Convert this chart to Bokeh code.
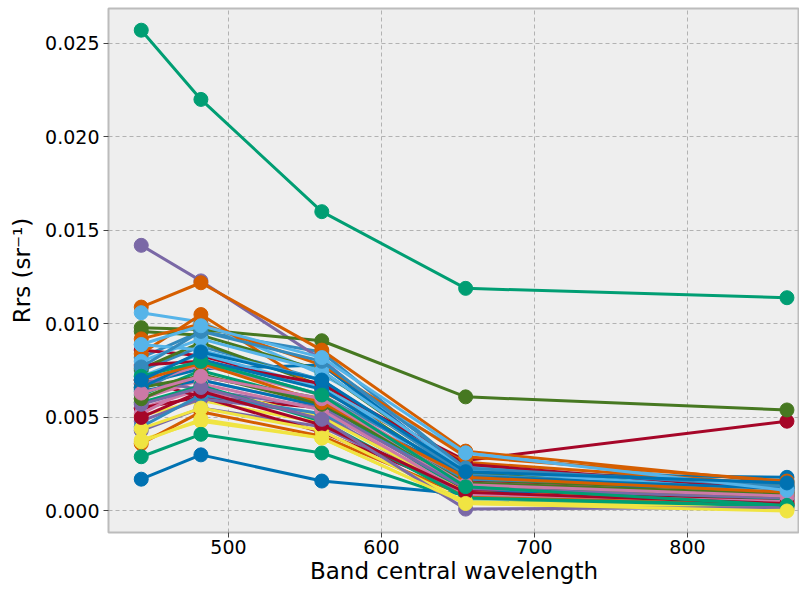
from bokeh.plotting import figure
from bokeh.models import Range1d, FixedTicker, PrintfTickFormatter
from bokeh.embed import file_html
from bokeh.resources import INLINE

wavelengths = [443, 482, 561, 655, 865]

palette = ["#348ABD", "#A60628", "#7A68A6", "#467821", "#D55E00",
           "#CC79A7", "#56B4E9", "#009E73", "#F0E442", "#0072B2"]

# Rrs per band for each sample (sample i uses palette[i % 10])
rrs_443 = [0.0082, 0.0086, 0.0142, 0.0098, 0.0109, 0.0055, 0.0106, 0.0257, 0.0051, 0.0068,
           0.0075, 0.0070, 0.0043, 0.0076, 0.0084, 0.0060, 0.0089, 0.0062, 0.0038, 0.0064,
           0.0065, 0.0055, 0.0048, 0.0096, 0.0036, 0.0068, 0.0072, 0.0029, 0.0058, 0.0017,
           0.0045, 0.0078, 0.0070, 0.0066, 0.0092, 0.0052, 0.0080, 0.0058, 0.0044, 0.0066,
           0.0077, 0.0050, 0.0057, 0.0060, 0.0070, 0.0063, 0.0089, 0.0072, 0.0037, 0.0070]
rrs_482 = [0.0096, 0.0083, 0.0123, 0.0097, 0.0122, 0.0065, 0.0101, 0.0220, 0.0059, 0.0076,
           0.0088, 0.0061, 0.0055, 0.0090, 0.0105, 0.0070, 0.0086, 0.0075, 0.0048, 0.0070,
           0.0080, 0.0061, 0.0060, 0.0094, 0.0053, 0.0078, 0.0084, 0.0041, 0.0066, 0.0030,
           0.0062, 0.0080, 0.0065, 0.0072, 0.0100, 0.0068, 0.0092, 0.0067, 0.0055, 0.0081,
           0.0096, 0.0064, 0.0066, 0.0073, 0.0079, 0.0072, 0.0099, 0.0080, 0.0049, 0.0085]
rrs_561 = [0.0085, 0.0066, 0.0081, 0.0091, 0.0086, 0.0050, 0.0073, 0.0160, 0.0047, 0.0078,
           0.0070, 0.0055, 0.0045, 0.0067, 0.0064, 0.0056, 0.0070, 0.0058, 0.0039, 0.0056,
           0.0062, 0.0042, 0.0052, 0.0075, 0.0040, 0.0062, 0.0066, 0.0031, 0.0050, 0.0016,
           0.0052, 0.0068, 0.0055, 0.0060, 0.0078, 0.0054, 0.0075, 0.0048, 0.0043, 0.0065,
           0.0080, 0.0046, 0.0049, 0.0057, 0.0058, 0.0060, 0.0082, 0.0062, 0.0039, 0.0070]
rrs_655 = [0.0022, 0.0027, 0.0018, 0.0061, 0.0032, 0.0012, 0.0031, 0.0119, 0.0008, 0.0020,
           0.0019, 0.0016, 0.0009, 0.0017, 0.0026, 0.0013, 0.0011, 0.0010, 0.0004, 0.0020,
           0.0020, 0.0011, 0.0007, 0.0021, 0.0008, 0.0015, 0.0024, 0.0005, 0.0010, 0.0009,
           0.0017, 0.0025, 0.0012, 0.0014, 0.0029, 0.0009, 0.0022, 0.0007, 0.0005, 0.0018,
           0.0023, 0.0010, 0.0001, 0.0015, 0.0018, 0.0014, 0.0031, 0.0013, 0.0004, 0.0021]
rrs_865 = [0.0013, 0.0048, 0.0006, 0.0054, 0.0015, 0.0006, 0.0012, 0.0114, 0.0002, 0.0018,
           0.0012, 0.0008, 0.0004, 0.0010, 0.0014, 0.0007, 0.0008, 0.0006, 0.0001, 0.0010,
           0.0014, 0.0005, 0.0003, 0.0013, 0.0004, 0.0009, 0.0011, 0.0003, 0.0004, 0.0016,
           0.0013, 0.0011, 0.0007, 0.0008, 0.0016, 0.0005, 0.0010, 0.0003, 0.0001, 0.0012,
           0.0013, 0.0004, 0.0002, 0.0009, 0.0010, 0.0008, 0.0011, 0.0003, 0.0000, 0.0015]

y_ticks = [0.0, 0.005, 0.010, 0.015, 0.020, 0.025]
x_ticks = [500, 600, 700, 800]

p = figure(width=799, height=586, output_backend="svg", toolbar_location=None,
           x_range=Range1d(421.6, 873.2), y_range=Range1d(-0.00115, 0.02686),
           min_border_left=108, min_border_right=0, min_border_top=8, min_border_bottom=50)

p.background_fill_color = "#eeeeee"
p.border_fill_color = "white"
p.outline_line_color = "#bcbcbc"
p.outline_line_width = 2

for ax in (p.xaxis[0], p.yaxis[0]):
    ax.axis_line_color = None
    ax.major_tick_line_color = "#444444"
    ax.major_tick_line_width = 1
    ax.major_tick_out = 5
    ax.major_tick_in = 0
    ax.minor_tick_line_color = None
    ax.major_label_text_font = "DejaVu Sans"
    ax.major_label_text_font_size = "19px"
    ax.major_label_text_color = "black"
    ax.axis_label_text_font = "DejaVu Sans"
    ax.axis_label_text_font_size = "23px"
    ax.axis_label_text_font_style = "normal"
    ax.axis_label_text_color = "black"

p.xaxis.ticker = FixedTicker(ticks=x_ticks)
p.yaxis.ticker = FixedTicker(ticks=y_ticks)
p.yaxis.formatter = PrintfTickFormatter(format="%.3f")
p.xaxis.axis_label = "Band central wavelength"
p.yaxis.axis_label = "Rrs (sr\u207b\u00b9)"
p.xaxis.major_label_standoff = 2
p.yaxis.major_label_standoff = 4
p.xaxis.axis_label_standoff = 1
p.yaxis.axis_label_standoff = 7

for g in (p.xgrid[0], p.ygrid[0]):
    g.grid_line_color = "#b2b2b2"
    g.grid_line_dash = "4 3"
    g.grid_line_width = 1

for i in range(len(rrs_443)):
    ys = [rrs_443[i], rrs_482[i], rrs_561[i], rrs_655[i], rrs_865[i]]
    c = palette[i % len(palette)]
    p.line(wavelengths, ys, line_color=c, line_width=3)
    p.scatter(wavelengths, ys, size=14, fill_color=c, line_color=c)

open("out.html", "w").write(file_html(p, INLINE))
